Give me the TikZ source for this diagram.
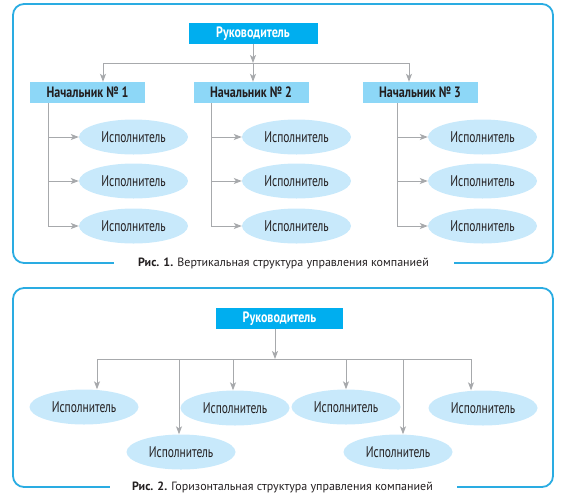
\documentclass[tikz,border=0pt]{standalone}
\usepackage{fontspec}
\setmainfont{PT Sans}[FakeStretch=0.74]
\newfontfamily\headfont{PT Sans Bold}[FakeStretch=0.8]
\newfontfamily\capfont{PT Sans}
\usetikzlibrary{arrows.meta,shapes.geometric}
\definecolor{framecol}{HTML}{2AACE2}
\definecolor{bosscol}{HTML}{00AEEF}
\definecolor{nachcol}{HTML}{8DD7F7}
\definecolor{workcol}{HTML}{C8E9FB}
\definecolor{linecol}{HTML}{A7A9AC}
\definecolor{textcol}{HTML}{231F20}
\tikzset{
    frame/.style={draw=framecol, line width=1.8pt, rounded corners=11pt},
    boss/.style={fill=bosscol, text=white, minimum height=21pt, inner sep=0pt,
                 font=\headfont\fontsize{15}{17}\selectfont},
    chief/.style={fill=nachcol, text=textcol, minimum height=21pt,
                  minimum width=115pt, inner sep=0pt,
                  font=\headfont\fontsize{15}{17}\selectfont},
    worker/.style={ellipse, fill=workcol, text=textcol, minimum width=109pt,
                   minimum height=35pt, inner sep=0pt,
                   font=\fontsize{15.5}{17}\selectfont},
    link/.style={draw=linecol, line width=1pt},
    flow/.style={link, -{Stealth[length=8pt,width=6pt,inset=2pt]}},
    caption/.style={text=textcol, inner sep=0pt, font=\capfont\fontsize{12}{14}\selectfont},
}
\begin{document}
\begin{tikzpicture}[x=1pt, y=-1pt]
    \useasboundingbox (0,0) rectangle (564,499);

    % Fig. 1: vertical structure
    \node[boss, minimum width=129pt] (boss1) at (253,33.5) {Руководитель};
    \node[chief] (nach1) at (87.5,92.5) {Начальник № 1};
    \node[chief] (nach2) at (251,92.5) {Начальник № 2};
    \node[chief] (nach3) at (420,92.5) {Начальник № 3};
    \coordinate (bar1l) at (103,63);
    \coordinate (bar1m) at (253,63);
    \coordinate (bar1r) at (409,63);
    \draw[flow] (boss1) -- (bar1m);
    \draw[link] (bar1l) -- (bar1r);
    \draw[flow] (bar1l) -- (bar1l |- nach1.north);
    \draw[flow] (bar1m) -- (bar1m |- nach2.north);
    \draw[flow] (bar1r) -- (bar1r |- nach3.north);
    \foreach \c/\sx in {1/48, 2/211, 3/397} {
        \foreach \r/\ry in {1/137, 2/181, 3/226} {
            \node[worker] (w\c\r) at (\sx+85.5,\ry) {Исполнитель};
            \draw[flow] (w\c\r.west -| \sx,0) -- (w\c\r.west);
        }
        \draw[link] (nach\c.south -| \sx,0) -- (w\c3.west -| \sx,0);
    }
    \node[caption] (cap1) at (283.5,263)
        {\textbf{Рис. 1.} Вертикальная структура управления компанией};
    \draw[frame] ([xshift=-24pt]cap1.west) -| (13,4) -| (553,263)
        -- ([xshift=25pt]cap1.east);

    % Fig. 2: horizontal structure
    \node[boss, minimum width=127pt] (boss2) at (279.5,318.5) {Руководитель};
    \node[worker] (wA) at (84,407) {Исполнитель};
    \node[worker] (wB) at (181,452) {Исполнитель};
    \node[worker] (wC) at (235,408) {Исполнитель};
    \node[worker] (wD) at (346,407) {Исполнитель};
    \node[worker] (wE) at (398,452) {Исполнитель};
    \node[worker] (wF) at (483,408) {Исполнитель};
    \coordinate (bar2m) at (275,359);
    \foreach \w/\dx in {A/97, B/179, C/233, D/346, E/403, F/471}
        \coordinate (d\w) at (\dx,359);
    \draw[flow] (boss2.south -| bar2m) -- (bar2m);
    \draw[link] (dA) -- (dF);
    \foreach \w in {A,B,C,D,E,F}
        \draw[flow] (d\w) -- (d\w |- w\w.north);
    \node[caption] (cap2) at (282.5,487)
        {\textbf{Рис. 2.} Горизонтальная структура управления компанией};
    \draw[frame] ([xshift=-22pt]cap2.west) -| (13,288) -| (553,487)
        -- ([xshift=24pt]cap2.east);

\end{tikzpicture}
\end{document}
